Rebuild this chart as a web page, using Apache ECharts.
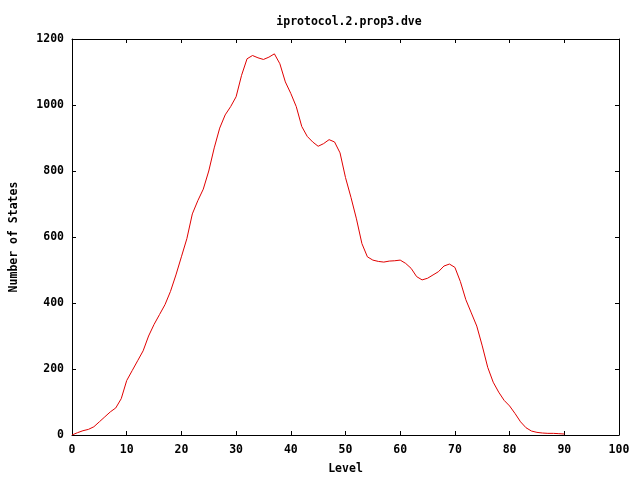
<!DOCTYPE html>
<html><head><meta charset="utf-8">
<script src="https://cdn.jsdelivr.net/npm/echarts@6/dist/echarts.min.js"></script>
<style>html,body{margin:0;padding:0;background:#fff;overflow:hidden}#c{width:640px;height:480px}</style>
</head><body><div id="c"></div>
<script>
const levels = [];
for (let i = 0; i <= 90; i++) levels.push(i);
const states = [0,7,13,17,25,40,55,70,82,110,
165,195,225,255,300,335,365,395,435,485,
540,595,670,710,745,800,870,930,970,995,
1025,1090,1140,1150,1143,1138,1145,1155,1125,1070,
1035,995,935,905,888,875,883,895,888,855,
780,720,655,580,540,530,526,524,527,528,
530,520,505,480,470,475,485,495,512,518,
508,465,410,370,330,270,205,160,130,105,
88,65,40,22,12,8,6,5,5,4,3];
const title = 'iprotocol.2.prop3.dve';
const xName = 'Level';
const yName = 'Number of States';

const font = '"DejaVu Sans Mono", monospace';
const lbl = {fontFamily: font, fontWeight: 'bold', fontSize: 11.5, color: '#000'};
const chart = echarts.init(document.getElementById('c'));
const mirrorAxis = {
  min: 0, axisLine: {show: true, onZero: false, lineStyle: {color: '#000', width: 1}},
  axisTick: {show: true, inside: true, length: 4, lineStyle: {color: '#000'}},
  axisLabel: {show: false}, splitLine: {show: false}
};
chart.setOption({
  animation: false,
  title: {text: title, left: 344, textAlign: 'center', top: 11,
    textStyle: {fontFamily: font, fontWeight: 'bold', fontSize: 11.5, color: '#000'}},
  grid: {left: 68, right: 21, top: 39, bottom: 40},
  xAxis: [{
    type: 'value', min: 0, max: 100, interval: 10,
    name: xName, nameLocation: 'middle', nameGap: 28, nameTextStyle: lbl,
    axisLine: {show: true, onZero: false, lineStyle: {color: '#000', width: 1}},
    axisTick: {show: true, inside: true, length: 4, lineStyle: {color: '#000'}},
    axisLabel: Object.assign({margin: 9, formatter: v => String(v)}, lbl), splitLine: {show: false}
  }, Object.assign({type: 'value', position: 'top', max: 100, interval: 10}, mirrorAxis)],
  yAxis: [{
    type: 'value', min: 0, max: 1200, interval: 200,
    name: yName, nameLocation: 'middle', nameGap: 52, nameTextStyle: lbl,
    axisLine: {show: true, onZero: false, lineStyle: {color: '#000', width: 1}},
    axisTick: {show: true, inside: true, length: 4, lineStyle: {color: '#000'}},
    axisLabel: Object.assign({margin: 8, formatter: v => String(v)}, lbl), splitLine: {show: false}
  }, Object.assign({type: 'value', position: 'right', max: 1200, interval: 200}, mirrorAxis)],
  series: [{
    type: 'line', xAxisIndex: 0, yAxisIndex: 0,
    data: levels.map((l, i) => [l, states[i]]),
    showSymbol: false, lineStyle: {color: '#e00000', width: 1}, itemStyle: {color: '#e00000'}
  }]
});
</script></body></html>
